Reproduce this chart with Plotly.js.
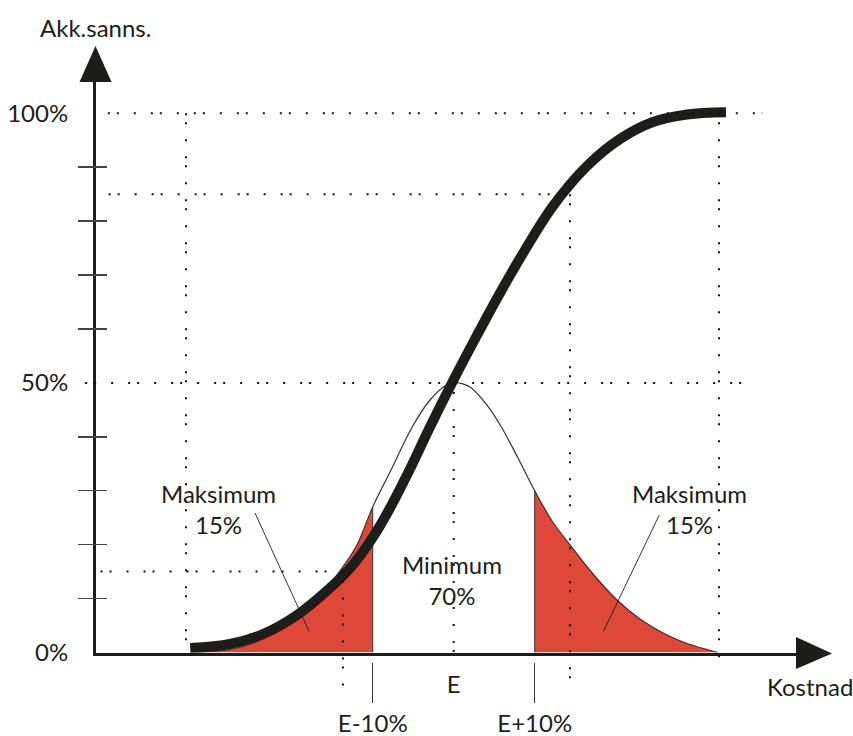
<!DOCTYPE html>
<html><head><meta charset="utf-8">
<script src="https://cdn.plot.ly/plotly-3.0.1.min.js"></script>
<style>html,body{margin:0;padding:0;background:#fff}#chart{width:853px;height:736px}</style>
</head><body><div id="chart"></div>
<script>
// ---------------- data ----------------
// cumulative probability curve (Akk.sanns. in %, cost in units where E = 100)
const cdfX = [67.47, 72.38, 76.46, 80.65, 84.73, 87.44, 90.04, 92.14, 94.60, 97.07, 99.91, 102.63, 105.72, 108.80, 112.26, 116.46, 120.53, 124.60, 128.80, 133.62];
const cdfY = [0.83, 1.58, 3.43, 6.95, 11.96, 16.04, 21.42, 26.80, 34.03, 41.82, 50.35, 58.14, 66.68, 74.65, 82.81, 90.23, 95.23, 98.39, 99.78, 100.2];
// bell (density) curve
const bellX = [67.47, 72.38, 76.46, 80.65, 83.49, 85.96, 88.06, 90.0, 92.14, 94.81, 97.07, 99.14, 100.28, 102.01, 104.11, 105.96, 107.94, 110.0, 112.14, 114.36, 117.20, 120.16, 123.00, 125.84, 128.80, 132.62];
const bellY = [0, 0.56, 2.50, 6.58, 10.48, 15.12, 19.93, 27.0, 33.48, 41.64, 46.83, 49.61, 50.07, 49.24, 45.90, 41.64, 36.07, 30.0, 24.39, 19.94, 14.56, 9.74, 6.21, 3.62, 1.67, 0];
// cost markers
const costE = 100;
const costLow = 90;   // E-10%
const costHigh = 110; // E+10%
const costTickText = ['E-10%', 'E+10%'];
// dotted guide lines
const guideVX = [66.95, 86.33, 100, 114.36, 132.75];
const guideVTop = [100, 15, 50, 85, 100];
const guideVBottom = [-0.5, -8.4, -2.5, -4.9, -1.4];
const guideHY = [100, 85, 50, 15];
const guideHX0 = [57.3, 57.4, 54.5, 56.4];
const guideHX1 = [138.1, 114.36, 137.1, 86.33];
// y axis
const yLabelVals = [0, 50, 100];
const yLabelText = ['0%', '50%', '100%'];
const yTickVals = [10, 20, 30, 40, 60, 70, 80, 90];
// leader lines from the labels to the tails
const leaderLX = [75.47, 82.17], leaderLY = [25.87, 3.86];
const leaderRX = [125.38, 118.47], leaderRY = [25.5, 3.86];
// labels
const labelTexts = ['Maksimum<br>15%', 'Minimum<br>70%', 'Maksimum<br>15%'];
const labelX = [70.96, 99.73, 129.11];
const labelY = [26.6, 13.4, 26.6];

// ---------------- geometry / style ----------------
const W = 853, H = 736;
const X_REF = 100, X_REF_PX = 453.7, PX_PER_X = 8.1;
const Y0_PX = 652.5, PX_PER_Y = 5.392;
const xOf = px => X_REF + (px - X_REF_PX) / PX_PER_X;
const yOf = py => (Y0_PX - py) / PX_PER_Y;
const AX_L = 96, AX_R = 812, AX_T = 60;
const INK = '#1d1d1b', RED = '#dd4839';
const FONT = 'Lato, "Open Sans", sans-serif';
const px2paperX = px => px / W, px2paperY = py => 1 - py / H;

const xRange = [xOf(AX_L), xOf(AX_R)];
const yRange = [0, yOf(AX_T)];

// tails
const leftIdx = bellX.map((x, i) => i).filter(i => bellX[i] <= costLow);
const rightIdx = bellX.map((x, i) => i).filter(i => bellX[i] >= costHigh);
const bellAt = x => bellY[bellX.indexOf(x)];

const dotted = {color: '#111', width: 2, dash: '2px,7px,2px,15px,2px,15px'};
function segs(x0, x1, y0, y1) {
  const xs = [], ys = [];
  for (let i = 0; i < x0.length; i++) { xs.push(x0[i], x1[i], null); ys.push(y0[i], y1[i], null); }
  return {xs, ys};
}
const vSeg = segs(guideVX, guideVX, guideVTop, guideVBottom);
const hSeg = segs(guideHX0, guideHX1, guideHY, guideHY);

const traces = [
  {x: leftIdx.map(i => bellX[i]), y: leftIdx.map(i => bellY[i]), mode: 'lines', line: {shape: 'spline', smoothing: 0.8, width: 0, color: RED}, fill: 'tozeroy', fillcolor: RED, hoverinfo: 'skip'},
  {x: rightIdx.map(i => bellX[i]), y: rightIdx.map(i => bellY[i]), mode: 'lines', line: {shape: 'spline', smoothing: 0.8, width: 0, color: RED}, fill: 'tozeroy', fillcolor: RED, hoverinfo: 'skip'},
  {x: [costLow, costLow, null, costHigh, costHigh], y: [0, bellAt(costLow), null, 0, bellAt(costHigh)], mode: 'lines', line: {color: '#333', width: 1}, hoverinfo: 'skip'},
  {x: bellX, y: bellY, mode: 'lines', line: {shape: 'spline', smoothing: 0.8, width: 1.2, color: '#333'}, hoverinfo: 'skip'},
  {x: cdfX, y: cdfY, mode: 'lines', line: {shape: 'spline', smoothing: 1, width: 10, color: INK}, hoverinfo: 'skip'},
  // overlay layer spanning the full figure with the same scales
  {x: vSeg.xs, y: vSeg.ys, xaxis: 'x2', yaxis: 'y2', mode: 'lines', line: dotted, hoverinfo: 'skip'},
  {x: hSeg.xs, y: hSeg.ys, xaxis: 'x2', yaxis: 'y2', mode: 'lines', line: dotted, hoverinfo: 'skip'},
  {x: leaderLX.concat([null], leaderRX), y: leaderLY.concat([null], leaderRY), xaxis: 'x2', yaxis: 'y2', mode: 'lines', line: {color: INK, width: 0.9}, hoverinfo: 'skip'},
  {x: [], y: [], xaxis: 'x3', yaxis: 'y', hoverinfo: 'skip'},
  {x: [], y: [], xaxis: 'x', yaxis: 'y3', hoverinfo: 'skip'}
];

function tri(pts) {
  return 'M ' + pts.map(p => px2paperX(p[0]) + ' ' + px2paperY(p[1])).join(' L ') + ' Z';
}
const shapes = [
  {type: 'path', xref: 'paper', yref: 'paper', path: tri([[79.5, 82], [111.5, 82], [95.5, 46]]), fillcolor: INK, line: {width: 0}},
  {type: 'path', xref: 'paper', yref: 'paper', path: tri([[796, 637], [796, 669], [832, 653.5]]), fillcolor: INK, line: {width: 0}}
];

const annotations = labelTexts.map((t, i) => ({
  text: t, x: labelX[i], y: labelY[i], xref: 'x', yref: 'y', showarrow: false,
  xanchor: 'center', yanchor: 'middle', align: 'center', font: {family: FONT, size: 24, color: INK}
}));
annotations.push({text: 'Akk.sanns.', x: px2paperX(95), y: px2paperY(27.5), xref: 'paper', yref: 'paper', showarrow: false, xanchor: 'center', yanchor: 'middle', font: {family: FONT, size: 24, color: INK}});
annotations.push({text: 'Kostnad', x: px2paperX(810), y: px2paperY(686), xref: 'paper', yref: 'paper', showarrow: false, xanchor: 'center', yanchor: 'middle', font: {family: FONT, size: 24, color: INK}});

const layout = {
  width: W, height: H, margin: {l: 0, r: 0, t: 0, b: 0, pad: 0},
  paper_bgcolor: '#ffffff', plot_bgcolor: 'rgba(0,0,0,0)', showlegend: false,
  font: {family: FONT, size: 24, color: INK},
  xaxis: {domain: [AX_L / W, AX_R / W], range: xRange, showline: true, linecolor: INK, linewidth: 3,
          showgrid: false, zeroline: false, tickmode: 'array', tickvals: [costE], ticktext: ['E'], ticks: '',
          ticklabelstandoff: 9, tickfont: {family: FONT, size: 24, color: INK}, fixedrange: true},
  yaxis: {domain: [1 - Y0_PX / H, 1 - AX_T / H], range: yRange, showline: true, linecolor: INK, linewidth: 3,
          showgrid: false, zeroline: false, tickmode: 'array', tickvals: yLabelVals, ticktext: yLabelText, ticks: '',
          ticklabelstandoff: 20, tickfont: {family: FONT, size: 24, color: INK}, fixedrange: true},
  xaxis2: {domain: [0, 1], range: [xOf(0), xOf(W)], anchor: 'y2', visible: false, fixedrange: true},
  yaxis2: {domain: [0, 1], range: [yOf(H), yOf(0)], anchor: 'x2', visible: false, fixedrange: true},
  xaxis3: {overlaying: 'x', anchor: 'free', position: 1 - 662 / H, side: 'bottom', range: xRange,
           tickmode: 'array', tickvals: [costLow, costHigh], ticktext: costTickText, ticks: 'outside', ticklen: 40,
           tickcolor: '#333', tickwidth: 1, showline: false, showgrid: false, zeroline: false,
           ticklabelstandoff: 0, tickfont: {family: FONT, size: 24, color: INK}, fixedrange: true},
  yaxis3: {overlaying: 'y', anchor: 'free', position: 77 / W, side: 'left', range: yRange,
           tickmode: 'array', tickvals: yTickVals, ticks: 'inside', ticklen: 29, tickcolor: '#444', tickwidth: 1.5,
           showticklabels: false, showline: false, showgrid: false, zeroline: false, fixedrange: true},
  shapes: shapes,
  annotations: annotations
};

Plotly.newPlot('chart', traces, layout, {staticPlot: true, displayModeBar: false});
</script>
</body></html>
